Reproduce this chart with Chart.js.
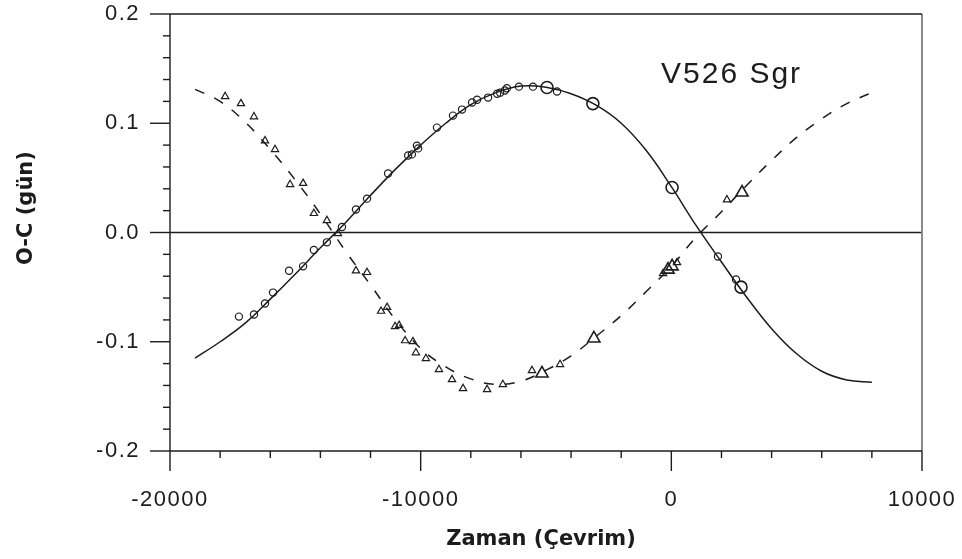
<!DOCTYPE html>
<html>
<head>
<meta charset="utf-8">
<script src="https://cdn.jsdelivr.net/npm/chart.js@4.4.0/dist/chart.umd.min.js"></script>
<style>
  html, body { margin: 0; padding: 0; background: #fff; }
  #wrap { width: 962px; height: 559px; }
</style>
</head>
<body>
<div id="wrap"><canvas id="ocChart" width="962" height="559"></canvas></div>
<script>
// tick values
const xMajorTicks = [-20000, -10000, 0, 10000];
const xMinorTicks = [-18000, -16000, -14000, -12000, -8000, -6000, -4000, -2000, 2000, 4000, 6000, 8000];
const yMajorTicks = [-0.2, -0.1, 0.0, 0.1, 0.2];
const yMinorTicks = [-0.18, -0.16, -0.14, -0.12, -0.08, -0.06, -0.04, -0.02,
                     0.02, 0.04, 0.06, 0.08, 0.12, 0.14, 0.16, 0.18];

// fitted curves (every 1000 cycles)
const fitX = [-19000, -18000, -17000, -16000, -15000, -14000, -13000, -12000, -11000, -10000,
              -9000, -8000, -7000, -6000, -5000, -4000, -3000, -2000, -1000, 0,
              1000, 2000, 3000, 4000, 5000, 6000, 7000, 8000];
const fitSolid = [-0.115, -0.100, -0.083, -0.061, -0.038, -0.014, 0.009, 0.034, 0.058, 0.080,
                  0.100, 0.117, 0.128, 0.134, 0.133, 0.127, 0.1165, 0.100, 0.075, 0.042,
                  0.006, -0.027, -0.059, -0.088, -0.111, -0.127, -0.135, -0.137];
const fitDashed = [0.131, 0.120, 0.101, 0.076, 0.048, 0.017, -0.017, -0.048, -0.080, -0.106,
                   -0.123, -0.134, -0.139, -0.136, -0.126, -0.113, -0.095, -0.076, -0.054, -0.031,
                   -0.004, 0.019, 0.043, 0.066, 0.087, 0.104, 0.118, 0.128];

// circles (small)
const circSmallX = [-17250, -16650, -16210, -15890, -15250, -14690, -14260, -13740, -13140, -12580,
                    -12140, -11300, -10500, -10350, -10150, -10100, -9350, -8710, -8350, -7950,
                    -7750, -7310, -6950, -6830, -6640, -6560, -6080, -5520, -4560, 1860, 2580];
const circSmallY = [-0.077, -0.075, -0.065, -0.055, -0.035, -0.031, -0.016, -0.009, 0.005, 0.021,
                    0.031, 0.054, 0.0705, 0.0715, 0.0795, 0.077, 0.096, 0.107, 0.1125, 0.119,
                    0.1215, 0.1235, 0.127, 0.128, 0.130, 0.132, 0.1335, 0.1335, 0.129, -0.022, -0.043];
// circles (large)
const circBigX = [-4960, -3130, 30, 2780];
const circBigY = [0.1327, 0.118, 0.0412, -0.050];

// triangles (small)
const triSmallX = [-17800, -17170, -16650, -16210, -15810, -15210, -14690, -14260, -13740, -13300,
                   -12580, -12140, -11580, -11340, -11020, -10860, -10620, -10310, -10190, -9790,
                   -9270, -8750, -8310, -7350, -6720, -5560, -4440, -330, 226, 2220];
const triSmallY = [0.1245, 0.118, 0.106, 0.084, 0.076, 0.044, 0.045, 0.0175, 0.011, -0.001,
                   -0.035, -0.0365, -0.072, -0.0685, -0.086, -0.085, -0.099, -0.0998, -0.110, -0.1153,
                   -0.1254, -0.1346, -0.1428, -0.1437, -0.1391, -0.1263, -0.1208, -0.0375, -0.0275, 0.030];
// triangles (large)
const triBigX = [-5160, -3090, -133, 30, 2820];
const triBigY = [-0.129, -0.097, -0.034, -0.031, 0.0366];

const toPts = (xs, ys) => xs.map((x, i) => ({ x: x, y: ys[i] }));
const ink = '#1c1c1c';
const tickFont = "'Liberation Sans', Arial, sans-serif";
const titleFont = "'DejaVu Sans', Verdana, sans-serif";
const tickSpacing = '1.5px';

// plot box: left 170, right 922, top 14, bottom 451
const noPad = s => { s.paddingTop = 0; s.paddingBottom = 0; s.paddingLeft = 0; s.paddingRight = 0; };

const framePlugin = {
  id: 'frame',
  beforeLayout(chart) { chart.ctx.letterSpacing = tickSpacing; },
  beforeDraw(chart) { chart.ctx.letterSpacing = tickSpacing; },
  beforeDatasetsDraw(chart) {
    const { ctx, chartArea: a, scales: { y } } = chart;
    const y0 = y.getPixelForValue(0);
    ctx.save();
    ctx.strokeStyle = ink;
    ctx.lineWidth = 1.4;
    ctx.beginPath();
    ctx.moveTo(a.left, y0);
    ctx.lineTo(a.right, y0);
    ctx.stroke();
    ctx.restore();
  },
  afterDraw(chart) {
    const { ctx, chartArea: a, scales: { x, y } } = chart;
    const seg = (x1, y1, x2, y2) => { ctx.beginPath(); ctx.moveTo(x1, y1); ctx.lineTo(x2, y2); ctx.stroke(); };
    ctx.save();
    ctx.letterSpacing = '0px';
    ctx.strokeStyle = '#8a8a8a';
    ctx.lineWidth = 2;
    seg(a.right, a.top, a.right, a.bottom);
    ctx.strokeStyle = ink;
    ctx.lineWidth = 1.4;
    seg(a.left, a.top, a.right, a.top);
    seg(a.left, a.bottom, a.right, a.bottom);
    seg(a.left, a.top, a.left, a.bottom);
    yMajorTicks.forEach(v => { const p = y.getPixelForValue(v); seg(a.left - 20, p, a.left, p); });
    yMinorTicks.forEach(v => { const p = y.getPixelForValue(v); seg(a.left - 7, p, a.left, p); });
    xMajorTicks.forEach(v => { const p = x.getPixelForValue(v); seg(p, a.bottom, p, a.bottom + 20); });
    xMinorTicks.forEach(v => { const p = x.getPixelForValue(v); seg(p, a.bottom, p, a.bottom + 7); });

    // axis titles
    ctx.fillStyle = ink;
    ctx.font = 'bold 21px ' + titleFont;
    ctx.textAlign = 'center';
    ctx.textBaseline = 'middle';
    ctx.fillText('Zaman (Çevrim)', 541, 540);
    ctx.save();
    ctx.translate(27, 208);
    ctx.rotate(-Math.PI / 2);
    ctx.fillText('O-C (gün)', 0, 0);
    ctx.restore();

    // star name
    ctx.font = '30px ' + tickFont;
    ctx.letterSpacing = '2px';
    ctx.textAlign = 'left';
    ctx.textBaseline = 'alphabetic';
    ctx.fillText('V526 Sgr', 661, 83);
    ctx.restore();
  }
};

const ctx = document.getElementById('ocChart').getContext('2d');
new Chart(ctx, {
  type: 'scatter',
  data: {
    datasets: [
      { data: toPts(fitX, fitSolid), showLine: true, borderColor: ink, borderWidth: 1.5,
        pointRadius: 0, tension: 0.4, fill: false },
      { data: toPts(fitX, fitDashed), showLine: true, borderColor: ink, borderWidth: 1.5,
        borderDash: [10, 11], pointRadius: 0, tension: 0.4, fill: false },
      { data: toPts(circSmallX, circSmallY), pointStyle: 'circle', pointRadius: 3.6,
        borderColor: ink, backgroundColor: 'rgba(0,0,0,0)', borderWidth: 1.2 },
      { data: toPts(circBigX, circBigY), pointStyle: 'circle', pointRadius: 6,
        borderColor: ink, backgroundColor: 'rgba(0,0,0,0)', borderWidth: 1.6 },
      { data: toPts(triSmallX, triSmallY), pointStyle: 'triangle', pointRadius: 4.2,
        borderColor: ink, backgroundColor: 'rgba(0,0,0,0)', borderWidth: 1.2 },
      { data: toPts(triBigX, triBigY), pointStyle: 'triangle', pointRadius: 7,
        borderColor: ink, backgroundColor: 'rgba(0,0,0,0)', borderWidth: 1.6 }
    ]
  },
  options: {
    responsive: false,
    animation: false,
    layout: { padding: { left: 0, top: 14, right: 40, bottom: 0 } },
    plugins: { legend: { display: false }, tooltip: { enabled: false } },
    scales: {
      x: {
        type: 'linear', min: -20000, max: 10000,
        afterFit: s => { s.height = 108; noPad(s); },
        afterBuildTicks: s => { s.ticks = xMajorTicks.map(v => ({ value: v })); },
        grid: { display: false, drawTicks: false },
        border: { display: false },
        ticks: { padding: 36, color: ink, autoSkip: false, maxRotation: 0,
                 font: { family: tickFont, size: 22 }, callback: v => String(v) }
      },
      y: {
        type: 'linear', min: -0.2, max: 0.2,
        afterFit: s => { s.width = 170; noPad(s); },
        afterBuildTicks: s => { s.ticks = yMajorTicks.map(v => ({ value: v })); },
        grid: { display: false, drawTicks: false },
        border: { display: false },
        ticks: { padding: 30, color: ink, autoSkip: false,
                 font: { family: tickFont, size: 22 },
                 callback: v => (Math.abs(v) < 1e-9 ? 0 : v).toFixed(1) }
      }
    }
  },
  plugins: [framePlugin]
});
</script>
</body>
</html>
